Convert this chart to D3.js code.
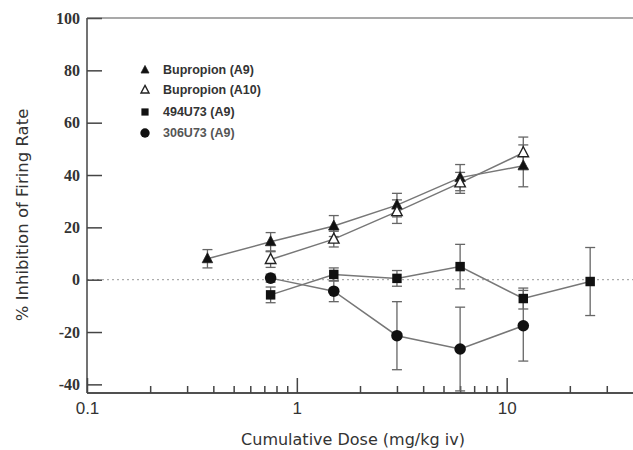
<!DOCTYPE html>
<html>
<head>
<meta charset="utf-8">
<script src="https://cdn.jsdelivr.net/npm/d3@7"></script>
<style>
  body { margin: 0; background: #fff; }
  svg { display: block; }
</style>
</head>
<body>
<div id="chart"></div>
<script>
// values (dose in mg/kg iv, % inhibition +/- sem)
var bupA9Dose = [0.375, 0.75, 1.5, 3, 6, 12];
var bupA9Val  = [8, 14.5, 20.5, 28.5, 39, 43.5];
var bupA9Err  = [3.5, 3.5, 4, 4.5, 5, 8];

var bupA10Dose = [0.75, 1.5, 3, 6, 12];
var bupA10Val  = [7.7, 15.5, 26, 37, 48.5];
var bupA10Err  = [3, 3, 4.5, 4, 6];

var u494Dose = [0.75, 1.5, 3, 6, 12, 25];
var u494Val  = [-5.8, 2, 0.5, 5, -7.2, -0.7];
var u494Err  = [3, 2.5, 3, 8.5, 4, 13];

var u306Dose = [0.75, 1.5, 3, 6, 12];
var u306Val  = [0.6, -4.4, -21.4, -26.5, -17.6];
var u306Err  = [1.5, 4, 13, 16, 13.5];

var legendLabels = ["Bupropion (A9)", "Bupropion (A10)", "494U73 (A9)", "306U73 (A9)"];
var yTicks = [-40, -20, 0, 20, 40, 60, 80, 100];
var xMajor = [0.1, 1, 10];
var xMinor = [0.2, 0.3, 0.4, 0.5, 0.6, 0.7, 0.8, 0.9, 2, 3, 4, 5, 6, 7, 8, 9, 20, 30];

var W = 633, H = 450;
var svg = d3.select("#chart").append("svg")
    .attr("width", W)
    .attr("height", H);

var x = d3.scaleLog().domain([0.1, 40]).range([87, 633]);
var y = d3.scaleLinear().domain([-43.3, 100]).range([393, 18]);

function zip(doses, vals, errs) {
    return doses.map(function (d, i) { return {d: d, v: vals[i], e: errs[i]}; });
}
var series = [
    {data: zip(bupA9Dose, bupA9Val, bupA9Err), shape: "tri", fill: "#111"},
    {data: zip(bupA10Dose, bupA10Val, bupA10Err), shape: "tri", fill: "#fff"},
    {data: zip(u494Dose, u494Val, u494Err), shape: "sq", fill: "#111"},
    {data: zip(u306Dose, u306Val, u306Err), shape: "circ", fill: "#111"}
];

// zero reference line
svg.append("line")
    .attr("x1", x(0.1)).attr("x2", W)
    .attr("y1", y(0)).attr("y2", y(0))
    .attr("stroke", "#999")
    .attr("stroke-width", 1)
    .attr("stroke-dasharray", "2,3");

// x axis: minor then major ticks, pointing up
var xAxisG = svg.append("g").attr("transform", "translate(0," + y.range()[0] + ")");
xAxisG.append("g")
    .call(d3.axisBottom(x).tickValues(xMinor).tickSize(-7).tickFormat(""));
xAxisG.append("g")
    .call(d3.axisBottom(x).tickValues(xMajor).tickSize(-15).tickPadding(9)
        .tickFormat(function (d) { return String(d); }));
xAxisG.selectAll("path").attr("stroke", "#444").attr("stroke-width", 1.5);
xAxisG.selectAll("line").attr("stroke", "#444").attr("stroke-width", 1.5);
xAxisG.selectAll("text")
    .attr("font-family", "Liberation Sans, sans-serif")
    .attr("font-size", 17)
    .attr("fill", "#333");
xAxisG.selectAll(".domain").attr("d", "M" + x(0.1) + ",0H" + W);

// y axis, ticks pointing in; plain hyphen for negatives like the original
var yAxisG = svg.append("g").attr("transform", "translate(" + x(0.1) + ",0)");
yAxisG.call(d3.axisLeft(y).tickValues(yTicks).tickSize(-15).tickPadding(7)
    .tickFormat(function (d) { return String(d); }));
yAxisG.select(".domain").attr("d", "M0," + y.range()[0] + "V" + y.range()[1]);
yAxisG.selectAll("path, line").attr("stroke", "#444").attr("stroke-width", 1.5);
yAxisG.selectAll("text")
    .attr("font-family", "Liberation Serif, serif")
    .attr("font-weight", "bold")
    .attr("font-size", 16)
    .attr("fill", "#333");

// top frame line
svg.append("line")
    .attr("x1", x(0.1)).attr("x2", W)
    .attr("y1", y(100)).attr("y2", y(100))
    .attr("stroke", "#555").attr("stroke-width", 1.2);

// axis titles
svg.append("text")
    .attr("x", 353).attr("y", 445)
    .attr("text-anchor", "middle")
    .attr("font-family", "DejaVu Sans, sans-serif")
    .attr("font-size", 16)
    .attr("fill", "#333")
    .text("Cumulative Dose (mg/kg iv)");

svg.append("text")
    .attr("transform", "translate(28,215) rotate(-90)")
    .attr("text-anchor", "middle")
    .attr("font-family", "DejaVu Sans, sans-serif")
    .attr("font-size", 16.5)
    .attr("fill", "#333")
    .text("% Inhibition of Firing Rate");

var line = d3.line()
    .x(function (d) { return x(d.d); })
    .y(function (d) { return y(d.v); });

// connecting lines
series.forEach(function (s) {
    svg.append("path")
        .datum(s.data)
        .attr("d", line)
        .attr("fill", "none")
        .attr("stroke", "#777")
        .attr("stroke-width", 1.5);
});

// error bars (clipped at the x axis, no cap there)
series.forEach(function (s) {
    var g = svg.append("g").attr("stroke", "#666").attr("stroke-width", 1.3);
    s.data.forEach(function (d) {
        var cx = x(d.d);
        var lo = Math.min(y(d.v - d.e), y.range()[0]);
        var hi = y(d.v + d.e);
        g.append("line").attr("x1", cx).attr("x2", cx).attr("y1", lo).attr("y2", hi);
        g.append("line").attr("x1", cx - 5).attr("x2", cx + 5).attr("y1", hi).attr("y2", hi);
        if (y(d.v - d.e) < y.range()[0]) {
            g.append("line").attr("x1", cx - 5).attr("x2", cx + 5).attr("y1", lo).attr("y2", lo);
        }
    });
});

function drawMarker(g, shape, fill, cx, cy, size) {
    if (shape === "tri") {
        var h = size * 0.95, w = size / 2;
        g.append("path")
            .attr("d", "M" + cx + "," + (cy - h * 0.6) + "L" + (cx + w) + "," + (cy + h * 0.4) +
                "L" + (cx - w) + "," + (cy + h * 0.4) + "Z")
            .attr("fill", fill)
            .attr("stroke", "#222")
            .attr("stroke-width", fill === "#fff" ? 1.4 : 0.8);
    } else if (shape === "sq") {
        var s2 = size * 0.45;
        g.append("rect")
            .attr("x", cx - s2).attr("y", cy - s2)
            .attr("width", s2 * 2).attr("height", s2 * 2)
            .attr("fill", fill);
    } else {
        g.append("circle")
            .attr("cx", cx).attr("cy", cy).attr("r", size * 0.55)
            .attr("fill", fill);
    }
}

// markers
series.forEach(function (s) {
    var g = svg.append("g");
    s.data.forEach(function (d) {
        drawMarker(g, s.shape, s.fill, x(d.d), y(d.v), 10.5);
    });
});

// legend
var legendY = [70, 90, 112, 133];
var legend = svg.append("g");
series.forEach(function (s, i) {
    drawMarker(legend, s.shape, s.fill, 145, legendY[i], s.shape === "circ" ? 8.5 : 8);
    legend.append("text")
        .attr("x", 163).attr("y", legendY[i] + 4)
        .attr("font-family", "Liberation Sans, sans-serif")
        .attr("font-weight", "bold")
        .attr("font-size", 12.5)
        .attr("fill", i === 3 ? "#555" : "#333")
        .text(legendLabels[i]);
});
</script>
</body>
</html>
